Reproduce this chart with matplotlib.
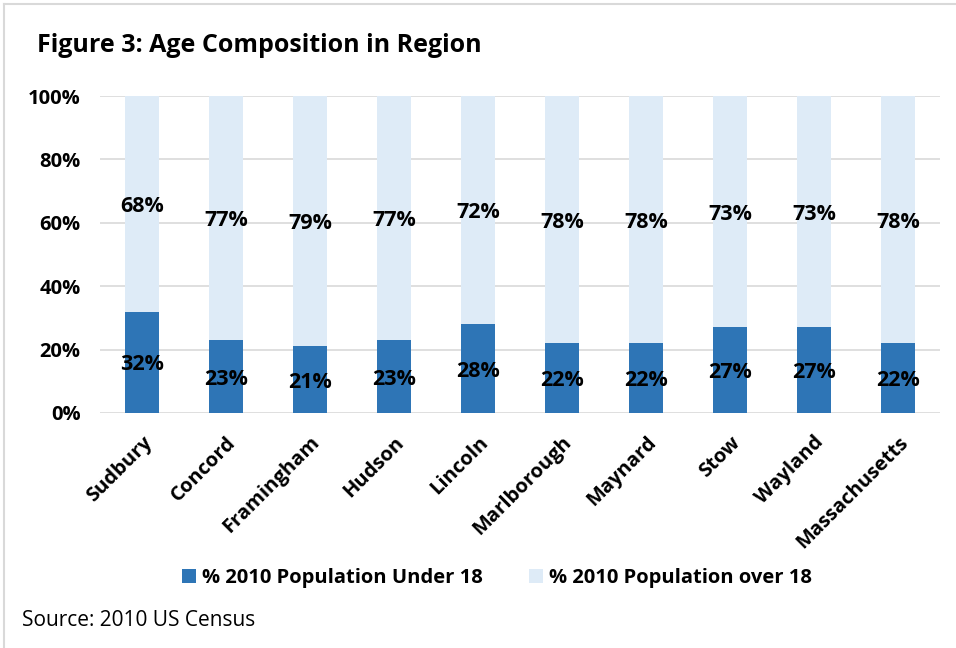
import matplotlib.pyplot as plt
import numpy as np

plt.rcParams['font.family'] = ['Open Sans', 'DejaVu Sans']

places = ["Sudbury", "Concord", "Framingham", "Hudson", "Lincoln",
          "Marlborough", "Maynard", "Stow", "Wayland", "Massachusetts"]
under_18 = [32, 23, 21, 23, 28, 22, 22, 27, 27, 22]
over_18 = [68, 77, 79, 77, 72, 78, 78, 73, 73, 78]

dark = "#2E75B6"
light = "#DEEBF7"

fig = plt.figure(figsize=(9.56, 6.48), dpi=100)
ax = fig.add_axes([100 / 956, 1 - 413 / 648, 840 / 956, 317 / 648])

x = np.arange(len(places))
ax.bar(x, under_18, width=0.4, color=dark, label="% 2010 Population Under 18", zorder=2)
ax.bar(x, over_18, width=0.4, bottom=under_18, color=light,
       label="% 2010 Population over 18", zorder=2)

# data labels at segment centres
for i in range(len(places)):
    ax.text(x[i], under_18[i] / 2, f"{under_18[i]}%", ha="center",
            va="center_baseline", fontsize=15.5, fontweight="bold", zorder=3)
    ax.text(x[i], under_18[i] + over_18[i] / 2, f"{over_18[i]}%", ha="center",
            va="center_baseline", fontsize=15.5, fontweight="bold", zorder=3)

ax.set_xlim(-0.5, len(places) - 0.5)
ax.set_ylim(0, 100)
ax.set_yticks(range(0, 101, 20))
ax.set_yticklabels([f"{v}%" for v in range(0, 101, 20)], fontsize=14.5, fontweight="bold")
ax.set_xticks(x)
ax.set_xticklabels(places, rotation=45, ha="right", rotation_mode="anchor",
                   fontsize=14.5, fontweight="bold")
ax.tick_params(axis="y", length=0, pad=14)
ax.tick_params(axis="x", length=0, pad=14)
ax.grid(axis="y", color="#D9D9D9", linewidth=1.2, zorder=0)
for s in ax.spines.values():
    s.set_visible(False)

fig.text(37 / 956, 1 - 46 / 648, "Figure 3: Age Composition in Region",
         fontsize=18, fontweight="bold", va="center", ha="left")

fig.legend(loc="center", bbox_to_anchor=(497 / 956, 1 - 578 / 648), ncol=2,
           frameon=False, handlelength=0.7, handleheight=0.7, handletextpad=0.3,
           columnspacing=2.3, prop={"size": 14.5, "weight": "bold"})

fig.text(22 / 956, 1 - 621 / 648, "Source: 2010 US Census", fontsize=15,
         va="center", ha="left")

# light frame on the left and top, as in the source
fig.add_artist(plt.Line2D([4 / 956, 4 / 956], [0, 1 - 4 / 648], color="#D9D9D9",
                          linewidth=1.5, transform=fig.transFigure))
fig.add_artist(plt.Line2D([4 / 956, 1], [1 - 4 / 648, 1 - 4 / 648], color="#D9D9D9",
                          linewidth=1.5, transform=fig.transFigure))

fig.savefig("out.png", dpi=100)
